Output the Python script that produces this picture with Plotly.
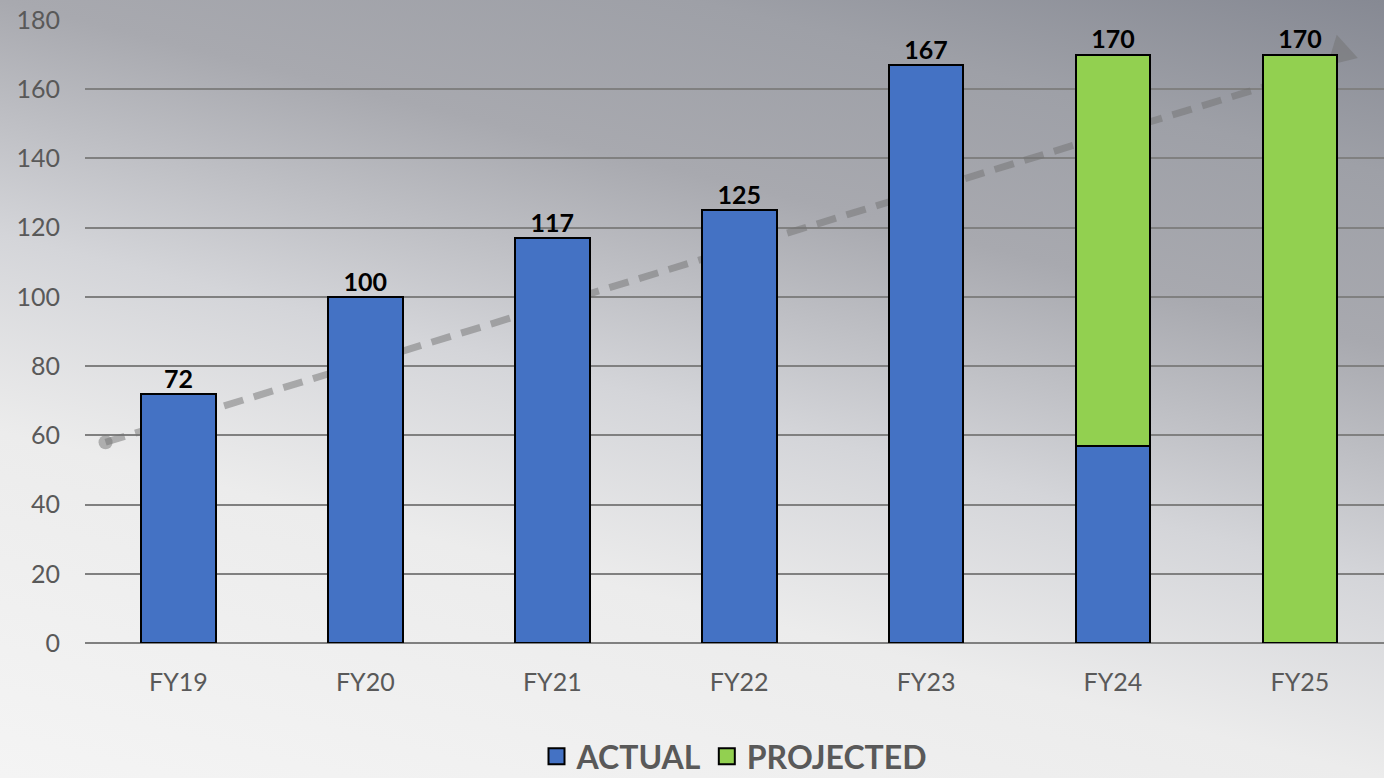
import base64, math
import plotly.graph_objects as go

categories = ["FY19", "FY20", "FY21", "FY22", "FY23", "FY24", "FY25"]
actual = [72, 100, 117, 125, 167, 57, 0]
projected = [0, 0, 0, 0, 0, 113, 170]
totals = [a + p for a, p in zip(actual, projected)]
y_ticks = [0, 20, 40, 60, 80, 100, 120, 140, 160, 180]
trend_start = (-0.39, 58)
trend_end = (6.31, 169)

W, H = 1384, 778
ML, MR, MT, MB = 85, 0, 20, 135
PW, PH = W - ML - MR, H - MT - MB
XR = [-0.5, 6.45]
YR = [0, 180]

svg = f'''<svg xmlns="http://www.w3.org/2000/svg" width="{W}" height="{H}" viewBox="0 0 {W} {H}" preserveAspectRatio="none">
<defs><linearGradient id="g" gradientUnits="userSpaceOnUse" x1="0" y1="778" x2="264.5" y2="-279.9">
<stop offset="0" stop-color="#f4f4f4"/>
<stop offset="0.308" stop-color="#ececec"/>
<stop offset="0.483" stop-color="#d4d5d9"/>
<stop offset="0.692" stop-color="#a8a9af"/>
<stop offset="0.846" stop-color="#9ea0a7"/>
<stop offset="1" stop-color="#868993"/>
</linearGradient></defs>
<rect x="0" y="0" width="{W}" height="{H}" fill="url(#g)"/></svg>'''
src = "data:image/svg+xml;base64," + base64.b64encode(svg.encode()).decode()

fig = go.Figure()
fig.add_trace(go.Bar(x=categories, y=actual, name="ACTUAL", width=0.4,
                     marker=dict(color="#4472c4", line=dict(color="black", width=2)),
                     showlegend=False))
fig.add_trace(go.Bar(x=categories, y=projected, name="PROJECTED", width=0.4,
                     marker=dict(color="#92d050", line=dict(color="black", width=2)),
                     showlegend=False))
fig.add_trace(go.Scatter(x=categories, y=totals, mode="text", text=[str(t) for t in totals],
                         textposition="top center",
                         textfont=dict(family="Lato", size=25, color="black", weight="bold"),
                         showlegend=False, hoverinfo="skip"))
for nm, col in [("ACTUAL", "#4472c4"), ("PROJECTED", "#92d050")]:
    fig.add_trace(go.Scatter(x=[None], y=[None], mode="markers", name=nm,
                             marker=dict(symbol="square", size=16, color=col,
                                         line=dict(color="black", width=2))))

# trend arrow
px_x = PW / (XR[1] - XR[0])
px_y = PH / (YR[1] - YR[0])
dx = (trend_end[0] - trend_start[0]) * px_x
dy = (trend_end[1] - trend_start[1]) * px_y
L = math.hypot(dx, dy)
ux, uy = dx / L, dy / L
head_len, head_w = 27, 16
line_end = (trend_end[0] - head_len * ux / px_x, trend_end[1] - head_len * uy / px_y)
tcol = "rgba(114,114,114,0.5)"
fig.add_shape(type="line", x0=trend_start[0], y0=trend_start[1], x1=line_end[0], y1=line_end[1],
              xref="x", yref="y", layer="between",
              line=dict(color=tcol, width=7, dash="20px,11px"))
# pixel-mode path: y pixels are measured downward
bx, by = -head_len * ux, head_len * uy
p1 = (bx - head_w * uy, by - head_w * ux)
p2 = (bx + head_w * uy, by + head_w * ux)
fig.add_shape(type="path", xref="x", yref="y", xsizemode="pixel", ysizemode="pixel",
              xanchor=trend_end[0], yanchor=trend_end[1], layer="between",
              path=f"M0,0 L{p1[0]:.1f},{p1[1]:.1f} L{p2[0]:.1f},{p2[1]:.1f} Z",
              fillcolor=tcol, line=dict(width=0))
fig.add_shape(type="circle", xref="x", yref="y", xsizemode="pixel", ysizemode="pixel",
              xanchor=trend_start[0], yanchor=trend_start[1], layer="between",
              x0=-7, x1=7, y0=-7, y1=7, fillcolor=tcol, line=dict(width=0))

fig.add_layout_image(dict(source=src, xref="paper", yref="paper",
                          x=-ML / PW, y=1 + MT / PH, sizex=W / PW, sizey=H / PH,
                          sizing="stretch", xanchor="left", yanchor="top", layer="below"))

fig.update_layout(
    width=W, height=H, barmode="stack",
    margin=dict(l=ML, r=MR, t=MT, b=MB, autoexpand=False),
    paper_bgcolor="#d8d9dc", plot_bgcolor="rgba(0,0,0,0)",
    font=dict(family="Lato", color="#595959"),
    legend=dict(orientation="h", x=0.5, xanchor="center", y=-0.182, yanchor="middle",
                traceorder="normal",
                font=dict(family="Lato", size=32, color="#595959", weight="bold"),
                bgcolor="rgba(0,0,0,0)", itemsizing="trace"),
    xaxis=dict(type="category", range=XR, showgrid=False, showline=False, zeroline=False,
               tickfont=dict(size=25, color="#595959"), ticklabelstandoff=22),
    yaxis=dict(range=YR, tickvals=y_ticks, showgrid=True, gridcolor="#808080", gridwidth=2,
               zeroline=True, zerolinecolor="#808080", zerolinewidth=2, showline=False,
               tickfont=dict(size=25, color="#595959"), ticklabelstandoff=24),
)
fig.write_html("out.html", config={"displayModeBar": False},
               post_script="document.body.style.margin='0';document.body.style.overflow='hidden';")
